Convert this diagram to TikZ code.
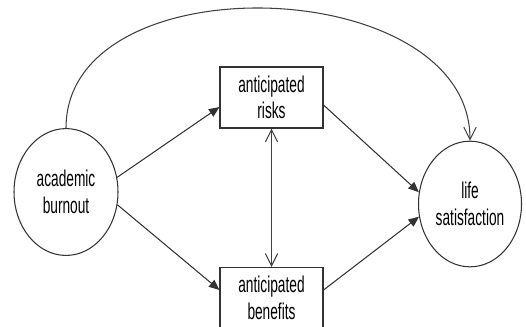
\documentclass[tikz,border=0pt]{standalone}
\usepackage{fontspec}
\setmainfont[FakeStretch=0.6]{Liberation Sans}
\usetikzlibrary{shapes.geometric,arrows.meta}
\tikzset{
  latent/.style={ellipse,draw=black!80,line width=0.6pt,inner sep=0pt,
    minimum width=#1,minimum height=1.22*#1,align=center,font=\fontsize{13pt}{15pt}\selectfont},
  observed/.style={rectangle,draw=black!80,line width=0.6pt,minimum width=2.06cm,
    minimum height=1.22cm,align=center,font=\fontsize{13pt}{15pt}\selectfont},
  path arrow/.style={draw=black!80,line width=0.6pt,-{Triangle[length=6pt,width=5pt]}}, % filled tips
  open arrow/.style={draw=black!75,line width=0.6pt,-{Straight Barb[length=7pt,width=7pt]}} % open tips
}

\begin{document}
\begin{tikzpicture}[x=0.02cm,y=0.02cm]
		\useasboundingbox (0,0) rectangle (526,326);

		\node[latent=2.08cm] (burnout) at (66,134) {academic\\burnout};
		\node[observed] (risks) at (271.5,228.5) {anticipated\\risks};
		\node[observed] (benefits) at (271.5,28) {anticipated\\benefits};
		\node[latent=2.06cm] (satisfaction) at (470,122) {life\\satisfaction};

		\draw[path arrow] (burnout.16) -- ([yshift=-0.19cm]risks.west);
		\draw[path arrow] (burnout.-14) -- ([yshift=0.16cm]benefits.west);
		\draw[path arrow] ([yshift=-0.15cm]risks.east) -- (satisfaction.167);
		\draw[path arrow] ([yshift=0.16cm]benefits.east) -- (satisfaction.194);

		\draw[open arrow,{Straight Barb[length=7pt,width=7pt]}-{Straight Barb[length=7pt,width=7pt]}] (risks.south) -- (benefits.north);

		\draw[open arrow] (burnout.north) .. controls +(0,168) and +(0,168) .. (satisfaction.north);

\end{tikzpicture}
\end{document}
